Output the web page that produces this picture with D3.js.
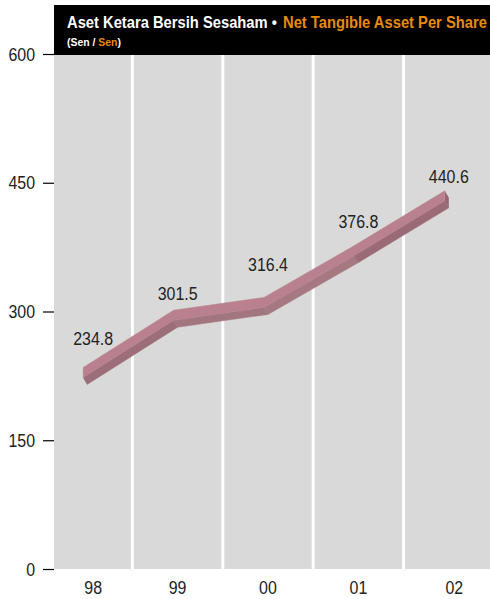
<!DOCTYPE html>
<html>
<head>
<meta charset="utf-8">
<script src="https://cdn.jsdelivr.net/npm/d3@7"></script>
<style>
  html, body { margin: 0; padding: 0; background: #ffffff; }
  svg { display: block; }
  text { font-family: "Liberation Sans", Arial, sans-serif; }
</style>
</head>
<body>
<svg id="chart" width="490" height="599"></svg>
<script>
// ---- data ----
const years = ["98", "99", "00", "01", "02"];
const values = [234.8, 301.5, 316.4, 376.8, 440.6];
const valueLabels = ["234.8", "301.5", "316.4", "376.8", "440.6"];
const yTicks = [0, 150, 300, 450, 600];
const titleMalay = "Aset Ketara Bersih Sesaham •";
const titleEnglish = "Net Tangible Asset Per Share";
const unitMalay = "(Sen / ";
const unitEnglish = "Sen";
// label lift above each point (layout nudge)
const labelLift = [22, 10, 26, 17.5, 8];

// ---- layout ----
const plotLeft = 54, plotRight = 505, plotTop = 54, plotBottom = 569;
const orange = "#e88a0c";
const squeeze = 0.84; // condensed look

const svg = d3.select("#chart");

const x = d3.scaleBand().domain(years).range([42, 494]);
const y = d3.scaleLinear().domain([0, 600]).range([plotBottom, plotTop]);
const bw = x.bandwidth();

// horizontally condense a text around its anchor x
function condense(sel, k) {
  sel.each(function () {
    const t = d3.select(this);
    const ax = +t.attr("x") || 0;
    t.attr("transform", `translate(${ax},0) scale(${k},1) translate(${-ax},0)`);
  });
}
// fit a (start-anchored) text to a given width
function fitWidth(sel, w) {
  sel.each(function () {
    const len = this.getComputedTextLength();
    condense(d3.select(this), w / len);
  });
}

// background plot area
svg.append("rect")
  .attr("x", plotLeft).attr("y", plotTop)
  .attr("width", plotRight - plotLeft).attr("height", plotBottom - plotTop)
  .attr("fill", "#d9d9d9");

// white column separators
svg.append("g").selectAll("line")
  .data(years.slice(1))
  .join("line")
  .attr("x1", d => x(d)).attr("x2", d => x(d))
  .attr("y1", plotTop).attr("y2", plotBottom)
  .attr("stroke", "#ffffff").attr("stroke-width", 3);

// title bar
svg.append("rect")
  .attr("x", plotLeft).attr("y", 5)
  .attr("width", plotRight - plotLeft).attr("height", plotTop - 5 + 1)
  .attr("fill", "#000000");

svg.append("text")
  .attr("x", 67).attr("y", 28)
  .attr("font-size", 16).attr("font-weight", "bold")
  .attr("fill", "#ffffff").text(titleMalay)
  .call(fitWidth, 210);
svg.append("text")
  .attr("x", 283).attr("y", 28)
  .attr("font-size", 16).attr("font-weight", "bold")
  .attr("fill", orange).text(titleEnglish)
  .call(fitWidth, 204);

const t2 = svg.append("text")
  .attr("x", 67).attr("y", 46)
  .attr("font-size", 11).attr("font-weight", "bold");
t2.append("tspan").attr("fill", "#ffffff").text(unitMalay);
t2.append("tspan").attr("fill", orange).text(unitEnglish);
t2.append("tspan").attr("fill", "#ffffff").text(")");
t2.call(fitWidth, 54);

// y axis
const yAxis = d3.axisLeft(y).tickValues(yTicks).tickSize(11).tickPadding(8).tickFormat(d3.format("d"));
const gy = svg.append("g").attr("transform", `translate(${plotLeft},0)`).call(yAxis);
gy.select(".domain").remove();
gy.selectAll(".tick line").attr("stroke", "#000").attr("stroke-width", 1.2);
gy.selectAll(".tick text")
  .attr("font-size", 19).attr("fill", "#222")
  .attr("font-family", "Liberation Sans, Arial, sans-serif")
  .call(condense, squeeze);

// x axis labels: centred in each visible column
function colCenter(d, i, rightLimit) {
  const a = Math.max(x(d), plotLeft);
  const b = (i === years.length - 1) ? rightLimit : x(d) + bw;
  return (a + b) / 2;
}
svg.append("g").selectAll("text")
  .data(years)
  .join("text")
  .attr("x", (d, i) => colCenter(d, i, plotRight))
  .attr("y", 594)
  .attr("text-anchor", "middle")
  .attr("font-size", 19).attr("fill", "#222")
  .text(d => d)
  .call(condense, squeeze);

// ---- 3D ribbon line ----
const thick = 10;        // top face vertical thickness
const ex = 4, ey = 7;    // extrusion of the front face
const pts = values.map((v, i) => [x(years[i]) + bw / 2 - 4, y(v)]);
const low = pts.map(p => [p[0], p[1] + thick]);
const lowE = low.map(p => [p[0] + ex, p[1] + ey]);

const poly = arr => "M" + arr.map(p => p.join(",")).join("L") + "Z";

const fronts = d3.range(pts.length - 1).map(i => [low[i], low[i + 1], lowE[i + 1], lowE[i]]);
const frontColors = ["#9c6e7a", "#a2767f", "#a57882", "#9a6a76"];
svg.append("g").selectAll("path")
  .data(fronts)
  .join("path")
  .attr("d", d => poly(d))
  .attr("fill", (d, i) => frontColors[i])
  .attr("stroke", (d, i) => frontColors[i]).attr("stroke-width", 0.5);

const n = pts.length - 1;
svg.append("path")
  .attr("d", poly([pts[n], low[n], lowE[n], [pts[n][0] + ex, pts[n][1] + ey]]))
  .attr("fill", "#946571");

svg.append("path")
  .attr("d", poly(pts.concat(low.slice().reverse())))
  .attr("fill", "#b9818f").attr("stroke", "#b9818f").attr("stroke-width", 0.5);

// value labels
svg.append("g").selectAll("text")
  .data(values)
  .join("text")
  .attr("x", (d, i) => colCenter(years[i], i, x(years[i]) + bw))
  .attr("y", (d, i) => y(d) - labelLift[i])
  .attr("text-anchor", "middle")
  .attr("font-size", 19).attr("fill", "#222")
  .text((d, i) => valueLabels[i])
  .call(condense, squeeze);
</script>
</body>
</html>
